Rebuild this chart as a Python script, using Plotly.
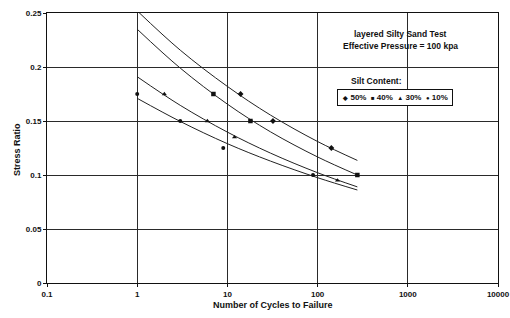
import plotly.graph_objects as go

# ---- data ----
x_tickvals = [0.1, 1, 10, 100, 1000, 10000]
x_ticktext = ["0.1", "1", "10", "100", "1000", "10000"]
y_tickvals = [0, 0.05, 0.1, 0.15, 0.2, 0.25]
y_ticktext = ["0", "0.05", "0.1", "0.15", "0.2", "0.25"]

# measured points per silt content
s50_x = [14, 32, 142]
s50_y = [0.175, 0.15, 0.125]
s40_x = [7, 18, 276]
s40_y = [0.175, 0.15, 0.10]
s30_x = [2, 6, 12, 166]
s30_y = [0.175, 0.15, 0.135, 0.095]
s10_x = [1, 3, 9, 89]
s10_y = [0.175, 0.15, 0.125, 0.10]

# trend curves
curve_x = [1, 3, 10, 30, 100, 276]
c50_y = [0.252, 0.2156, 0.182, 0.1555, 0.131, 0.1135]
c40_y = [0.235, 0.199, 0.1656, 0.140, 0.1167, 0.100]
c30_y = [0.191, 0.1645, 0.1397, 0.1203, 0.1021, 0.089]
c10_y = [0.171, 0.1496, 0.129, 0.1129, 0.0975, 0.0861]

legend_names = ["50%", "40%", "30%", "10%"]
legend_glyphs = ["◆", "■", "▲", "●"]

FONT = "Arial, Liberation Sans, Helvetica, sans-serif"
INK = "#111111"

fig = go.Figure()

for cy in [c50_y, c40_y, c30_y, c10_y]:
    fig.add_trace(go.Scatter(x=curve_x, y=cy, mode="lines",
                             line=dict(color="#222222", width=1, shape="spline"),
                             showlegend=False, hoverinfo="skip"))

series = [
    ("50%", s50_x, s50_y, "diamond", 4.5),
    ("40%", s40_x, s40_y, "square", 4.5),
    ("30%", s30_x, s30_y, "triangle-up", 4.5),
    ("10%", s10_x, s10_y, "circle", 4),
]
for name, sx, sy, sym, sz in series:
    fig.add_trace(go.Scatter(x=sx, y=sy, mode="markers", name=name,
                             marker=dict(symbol=sym, size=sz, color=INK),
                             showlegend=False))

fig.update_layout(
    width=510, height=318,
    margin=dict(l=47, r=12, t=13, b=35, autoexpand=False),
    paper_bgcolor="white", plot_bgcolor="white",
    font=dict(family=FONT, color=INK, size=8, weight="bold"),
    showlegend=False,
)

fig.update_xaxes(
    type="log", range=[-1, 4], automargin=False,
    tickvals=x_tickvals, ticktext=x_ticktext,
    showgrid=True, gridcolor="#2a2a2a", gridwidth=1,
    showline=True, linecolor=INK, linewidth=1, mirror=True,
    ticks="outside", ticklen=3, tickcolor=INK,
    tickfont=dict(size=8, family=FONT, weight="bold"),
    zeroline=False,
)
fig.update_yaxes(
    range=[0, 0.25], automargin=False,
    tickvals=y_tickvals, ticktext=y_ticktext,
    showgrid=True, gridcolor="#2a2a2a", gridwidth=1,
    showline=True, linecolor=INK, linewidth=1, mirror=True,
    ticks="outside", ticklen=3, tickcolor=INK,
    tickfont=dict(size=8, family=FONT, weight="bold"),
    zeroline=False,
)

def px2paper(px, py):
    return (px - 47) / 451.0, (283.0 - py) / 270.0

def note(px, py, text, size=8.5, **kw):
    ax, ay = px2paper(px, py)
    fig.add_annotation(x=ax, y=ay, xref="paper", yref="paper", showarrow=False,
                       xanchor="center", yanchor="middle",
                       text=text, font=dict(size=size, family=FONT, weight="bold"),
                       **kw)

# axis titles
note(272.5, 305, "Number of Cycles to Failure", size=9)
note(17, 150, "Stress Ratio", size=9, textangle=-90)

# text block
note(400, 34, "layered Silty Sand Test")
note(400, 46, "Effective Pressure = 100 kpa")
note(376, 81, "Silt Content:")
legend_text = "&nbsp;&nbsp;".join(
    f"<span style='font-size:6px'>{g}</span>&nbsp;{n}"
    for g, n in zip(legend_glyphs, legend_names))
note(394.5, 98, legend_text, size=8,
     bordercolor=INK, borderwidth=1, borderpad=2, bgcolor="white",
     width=110, height=11, align="center")

fig.write_html("out.html",
               config={"displayModeBar": False, "staticPlot": True},
               post_script="document.body.style.margin='0';document.body.style.overflow='hidden';")
